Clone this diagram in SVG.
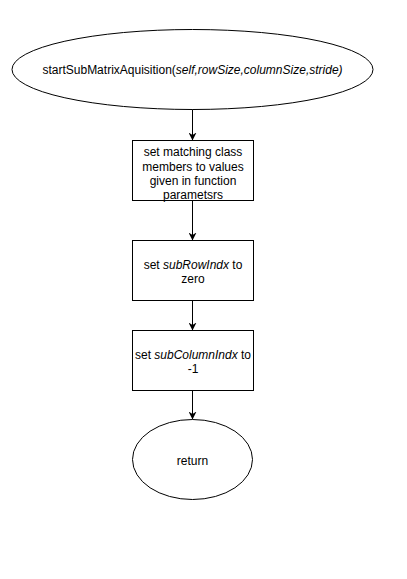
<svg xmlns="http://www.w3.org/2000/svg" width="407" height="579" viewBox="0 0 407 579">
  <defs>
    <marker id="arrow" viewBox="0 0 10 10" refX="10" refY="5" markerWidth="8" markerHeight="8" markerUnits="userSpaceOnUse" orient="auto">
      <path d="M0,0 L10,5 L0,10 L3,5 Z" fill="#000"/>
    </marker>
    <style>
      .shape { fill: #fff; stroke: #000; stroke-width: 1; }
      .edge { fill: none; stroke: #000; stroke-width: 1; marker-end: url(#arrow); }
      text { font-family: "Liberation Sans", Arial, Helvetica, sans-serif; font-size: 12px; fill: #000; text-anchor: middle; }
      .it { font-style: italic; }
    </style>
  </defs>
  <rect width="407" height="579" fill="#fff"/>

  <g id="connectors">
    <path class="edge" d="M192.5,109 L192.5,140.5"/>
    <path class="edge" d="M192.5,200.5 L192.5,240.5"/>
    <path class="edge" d="M192.5,300.5 L192.5,330.5"/>
    <path class="edge" d="M192.5,390.5 L192.5,419.5"/>
  </g>

  <g id="start">
    <ellipse class="shape" cx="192.5" cy="69.5" rx="180.5" ry="40"/>
    <text x="192.5" y="74">startSubMatrixAquisition(<tspan class="it">self,rowSize,columnSize,stride)</tspan></text>
  </g>

  <g id="set-members">
    <rect class="shape" x="132.5" y="140.5" width="121" height="60"/>
    <text x="193" y="156">set matching class</text>
    <text x="193" y="170.5">members to values</text>
    <text x="193" y="184.5">given in function</text>
    <text x="193" y="198.5">parametsrs</text>
  </g>

  <g id="set-row">
    <rect class="shape" x="132.5" y="240.5" width="121" height="60"/>
    <text x="193" y="268.5">set <tspan class="it">subRowIndx</tspan> to</text>
    <text x="193" y="283">zero</text>
  </g>

  <g id="set-column">
    <rect class="shape" x="132.5" y="330.5" width="121" height="60"/>
    <text x="193" y="358.5">set <tspan class="it">subColumnIndx</tspan> to</text>
    <text x="193" y="373">-1</text>
  </g>

  <g id="return">
    <ellipse class="shape" cx="192.5" cy="459.5" rx="60" ry="40"/>
    <text x="192.5" y="464.5">return</text>
  </g>
</svg>
